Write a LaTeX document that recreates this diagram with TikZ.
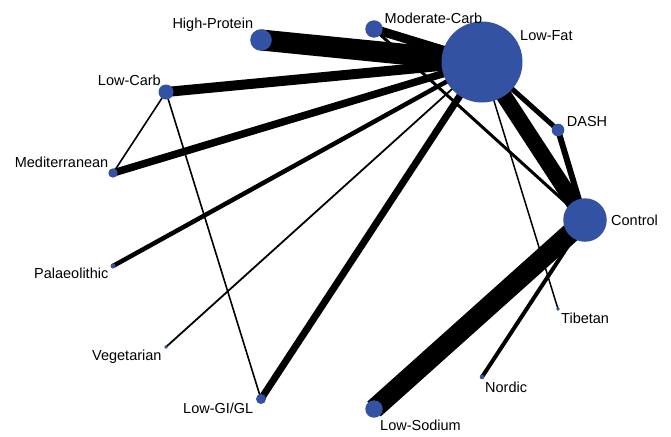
\documentclass[tikz,border=0pt]{standalone}
\usepackage{fontspec}
\setmainfont{Liberation Sans}
\begin{document}
\begin{tikzpicture}[x=1pt,y=-1pt,
  vtx/.style={circle,fill=nodeblue,draw=none,inner sep=0pt,minimum size=#1},
  lbl/.style={inner sep=0pt,font=\fontsize{14.5}{16}\selectfont},
  edge/.style={draw=black,line width=#1,line cap=butt}]
\definecolor{nodeblue}{RGB}{52,82,163}
\useasboundingbox (0,0) rectangle (671,436);
% node centres
\coordinate (LF) at (482,62);
\coordinate (MC) at (374,29);
\coordinate (HP) at (261,40);
\coordinate (LC) at (166,92);
\coordinate (ME) at (113,173);
\coordinate (PA) at (113,266);
\coordinate (VE) at (166,347);
\coordinate (GI) at (261,399);
\coordinate (LS) at (374,409);
\coordinate (NO) at (482,377);
\coordinate (TI) at (558,309);
\coordinate (CO) at (585,220);
\coordinate (DA) at (558,130);
% edges
\draw[edge=21pt] (LF) -- (HP);
\draw[edge=9pt] (LF) -- (MC);
\draw[edge=10pt] (LF) -- (LC);
\draw[edge=7.5pt] (LF) -- (ME);
\draw[edge=4.5pt] (LF) -- (PA);
\draw[edge=1.8pt] (LF) -- (VE);
\draw[edge=7pt] (LF) -- (GI);
\draw[edge=16pt] (LF) -- (CO);
\draw[edge=5pt] (LF) -- (DA);
\draw[edge=1.5pt] (LF) -- (TI);
\draw[edge=3pt] (MC) -- (CO);
\draw[edge=6pt] (DA) -- (CO);
\draw[edge=20pt] (CO) -- (LS);
\draw[edge=4pt] (CO) -- (NO);
\draw[edge=1.6pt] (LC) -- (ME);
\draw[edge=1.6pt] (LC) -- (GI);
% nodes
\node[vtx=81pt] (nLF) at (LF) {};
\node[vtx=17.4pt] (nMC) at (MC) {};
\node[vtx=21.6pt] (nHP) at (HP) {};
\node[vtx=15pt] (nLC) at (LC) {};
\node[vtx=9.4pt] (nME) at (ME) {};
\node[vtx=5pt] (nPA) at (PA) {};
\node[vtx=3.6pt] (nVE) at (VE) {};
\node[vtx=10pt] (nGI) at (GI) {};
\node[vtx=17.4pt] (nLS) at (LS) {};
\node[vtx=4.6pt] (nNO) at (NO) {};
\node[vtx=3.6pt] (nTI) at (TI) {};
\node[vtx=43.5pt] (nCO) at (CO) {};
\node[vtx=12.6pt] (nDA) at (DA) {};
% labels
\node[lbl,anchor=base west] (tLF) at (520,40.7) {Low-Fat};
\node[lbl,anchor=base west] (tMC) at (384.5,24) {Moderate-Carb};
\node[lbl,anchor=base east] (tHP) at (253.3,28.5) {High-Protein};
\node[lbl,anchor=base east] (tLC) at (161,85) {Low-Carb};
\node[lbl,anchor=base east] (tME) at (108.5,167) {Mediterranean};
\node[lbl,anchor=base east] (tPA) at (108.5,278) {Palaeolithic};
\node[lbl,anchor=base east] (tVE) at (161.7,360) {Vegetarian};
\node[lbl,anchor=base east] (tGI) at (253.5,413) {Low-GI/GL};
\node[lbl,anchor=base west] (tLS) at (380,430.7) {Low-Sodium};
\node[lbl,anchor=base west] (tNO) at (485,392.7) {Nordic};
\node[lbl,anchor=base west] (tTI) at (561,323) {Tibetan};
\node[lbl,anchor=base west] (tCO) at (611,225) {Control};
\node[lbl,anchor=base west] (tDA) at (566.7,126.7) {DASH};
\end{tikzpicture}
\end{document}
